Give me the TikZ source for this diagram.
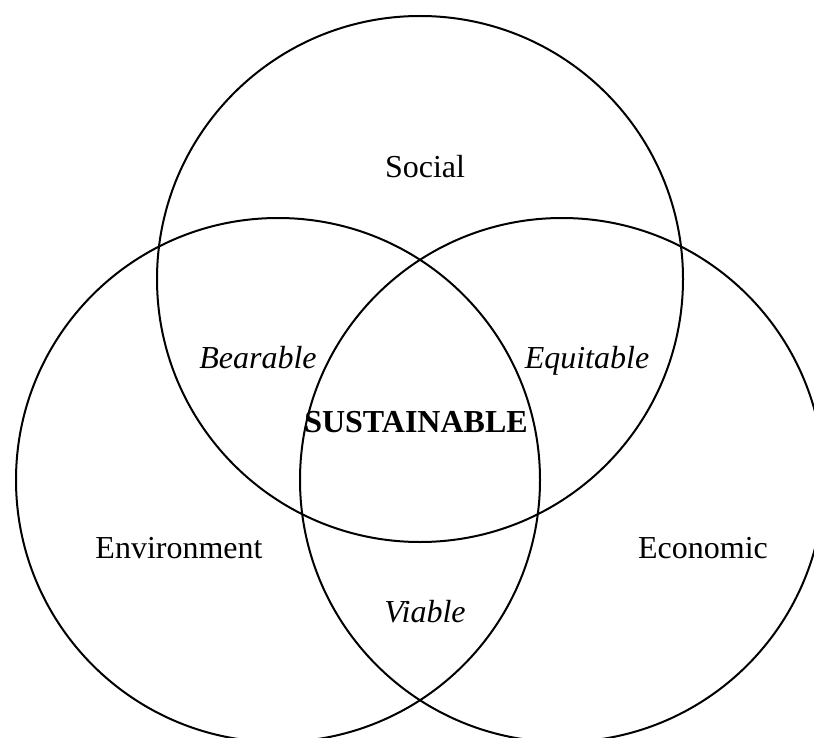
\documentclass[tikz,border=0pt]{standalone}
\usepackage{fontspec}
\setmainfont{Liberation Serif}
\begin{document}
\begin{tikzpicture}[x=1pt,y=-1pt,
  ring/.style={draw=black,line width=2pt},
  lbl/.style={anchor=base,inner sep=0pt,font=\fontsize{32}{38}\selectfont},
  ilbl/.style={lbl,font=\fontsize{32}{38}\selectfont\itshape},
  blbl/.style={lbl,font=\fontsize{32}{38}\selectfont\bfseries}]
\useasboundingbox (0,0) rectangle (814,738);
\clip (0,0) rectangle (814,738);
\draw[ring] (420,279) circle[radius=263pt];
\draw[ring] (278,480) circle[radius=262pt];
\draw[ring] (562,480) circle[radius=262pt];
\node[lbl] (social) at (425,178) {Social};
\node[ilbl] (bearable) at (258,368) {Bearable};
\node[ilbl] (equitable) at (587,368) {Equitable};
\node[blbl] (sust) at (416,432) {SUSTAINABLE};
\node[lbl] (env) at (179,558) {Environment};
\node[lbl] (econ) at (703,558) {Economic};
\node[ilbl] (viable) at (425,622) {Viable};
\end{tikzpicture}
\end{document}
